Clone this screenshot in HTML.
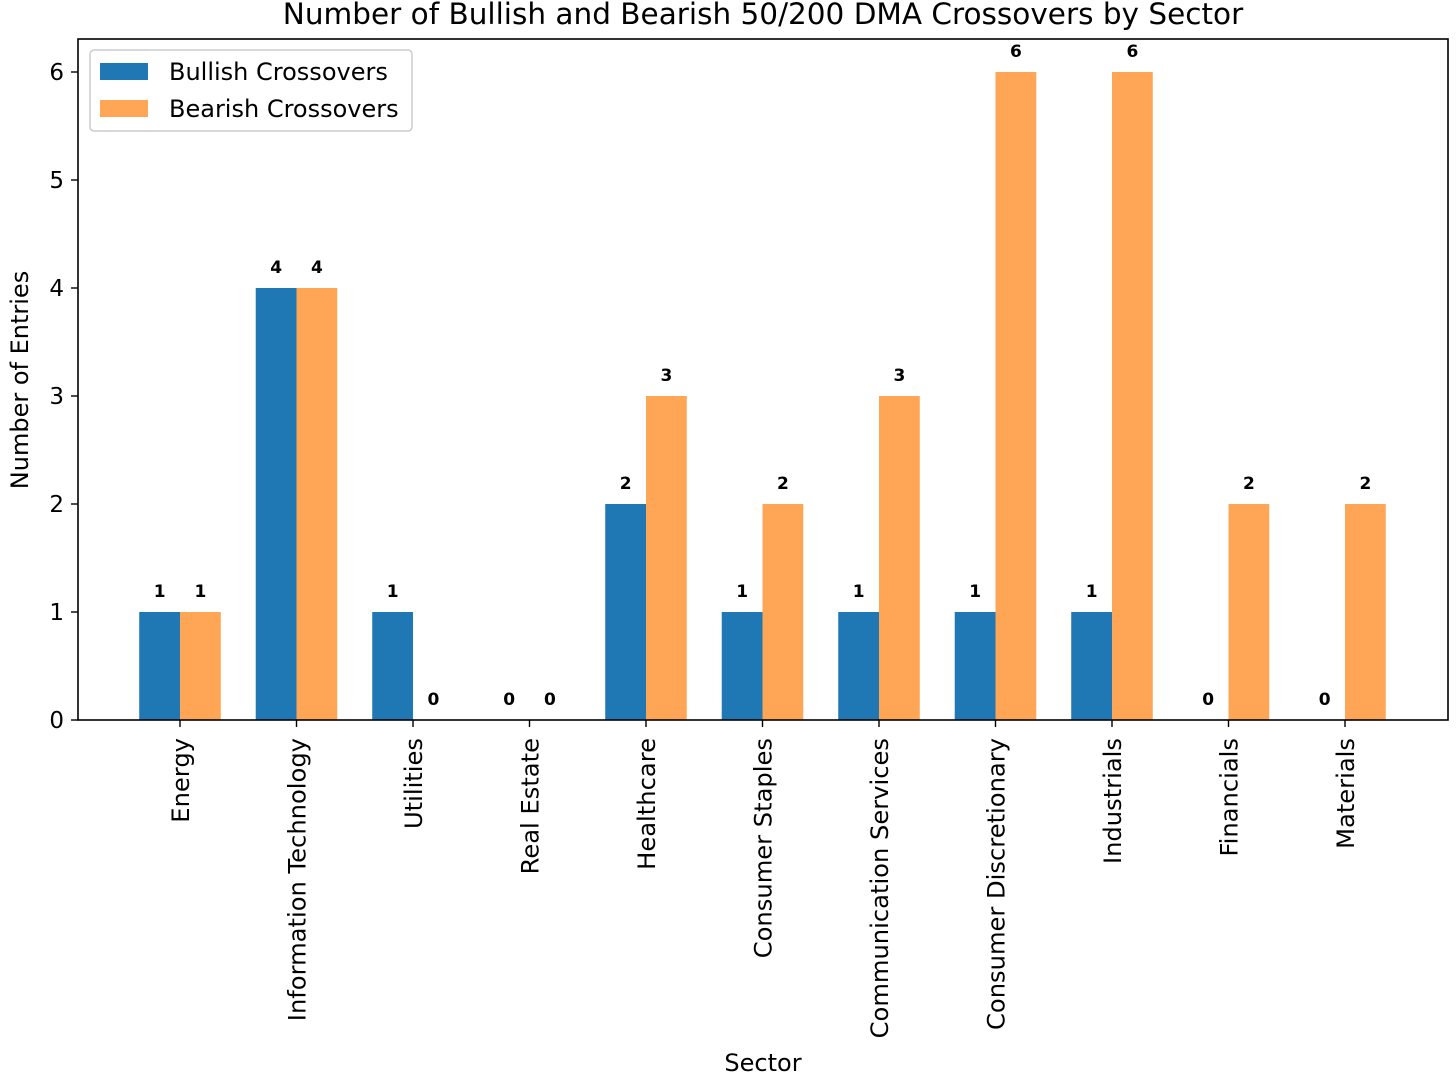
<!DOCTYPE html>
<html><head><meta charset="utf-8"><style>
body{margin:0;background:#fff;}
svg{font-family:"DejaVu Sans","Liberation Sans",sans-serif;}
</style></head><body>
<svg id="chart" width="1456" height="1086" xmlns="http://www.w3.org/2000/svg">
<rect width="1456" height="1086" fill="#fff"/>
<text x="763" y="24" font-size="29.5" text-anchor="middle">Number of Bullish and Bearish 50/200 DMA Crossovers by Sector</text>
<g id="bars"></g>
<g id="axes"></g>
<rect x="78" y="39" width="1370" height="681" fill="none" stroke="#000" stroke-width="1.6"/>
<text x="763" y="1071" font-size="24" text-anchor="middle">Sector</text>
<text transform="translate(28,380) rotate(-90)" font-size="24" text-anchor="middle">Number of Entries</text>
<g>
<rect x="90" y="50" width="322" height="81" rx="4" fill="#fff" fill-opacity="0.8" stroke="#ccc" stroke-width="1.5"/>
<rect x="100" y="63" width="48" height="17" fill="#1f77b4"/>
<text x="169" y="80" font-size="24">Bullish Crossovers</text>
<rect x="100" y="100" width="48" height="17" fill="#ffa556"/>
<text x="169" y="117" font-size="24">Bearish Crossovers</text>
</g>
</svg>
<script>
const categories=["Energy","Information Technology","Utilities","Real Estate","Healthcare","Consumer Staples","Communication Services","Consumer Discretionary","Industrials","Financials","Materials"];
const bullish=[1,4,1,0,2,1,1,1,1,0,0];
const bearish=[1,4,0,0,3,2,3,6,6,2,2];
const yTicks=[0,1,2,3,4,5,6];
const NS="http://www.w3.org/2000/svg";
const xs=i=>180+116.5*i;
const ys=v=>720-108*v;
const bw=0.35*116.5;
const bars=document.getElementById('bars'),axes=document.getElementById('axes');
function mk(tag,attrs,parent){const e=document.createElementNS(NS,tag);for(const k in attrs)e.setAttribute(k,attrs[k]);parent.appendChild(e);return e;}
categories.forEach((c,i)=>{
  [[bullish,'#1f77b4',-1,'bullish'],[bearish,'#ffa556',0,'bearish']].forEach(([arr,col,off,nm])=>{
    const v=arr[i];const x=xs(i)+off*bw;
    const r=mk('rect',{x:x,y:ys(v),width:bw,height:720-ys(v),fill:col},bars);
    
    
    const t=mk('text',{x:x+bw/2,y:ys(v)-15,'font-size':'17','font-weight':'bold','text-anchor':'middle'},bars);
    t.textContent=v;
    
    
  });
  mk('line',{x1:xs(i),x2:xs(i),y1:720,y2:727,stroke:'#000','stroke-width':1.4},axes);
  const t=mk('text',{transform:`translate(${xs(i)+9},738) rotate(-90)`,'font-size':'24.2','text-anchor':'end'},axes);
  t.textContent=c;
  
  
});
yTicks.forEach(v=>{
  mk('line',{x1:71,x2:78,y1:ys(v),y2:ys(v),stroke:'#000','stroke-width':1.4},axes);
  const t=mk('text',{x:64,y:ys(v)+8,'font-size':'23','text-anchor':'end'},axes);
  t.textContent=v;
  
  
});
</script>
</body></html>
